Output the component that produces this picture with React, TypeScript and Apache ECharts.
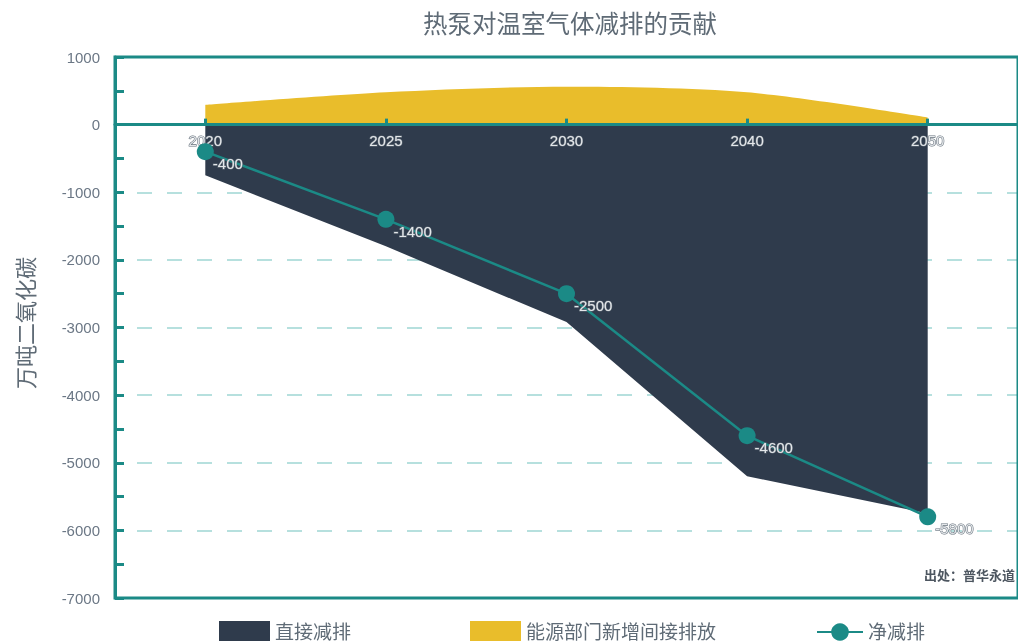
import React, { useEffect, useRef } from "react";
import * as echarts from "echarts";

const years = ["2020", "2025", "2030", "2040", "2050"];
const directReduction = [-750, -1800, -2920, -5200, -5750];
const indirectEmission = [290, 478, 560, 478, 105];
const netReduction = [-400, -1400, -2500, -4600, -5800];

const seriesNames = ["直接减排", "能源部门新增间接排放", "净减排"];
const titleText = "热泵对温室气体减排的贡献";
const yAxisTitle = "万吨二氧化碳";
const sourceText = "出处：普华永道";

const TEAL = "#1b8a86";
const DARK = "#2f3b4c";
const YELLOW = "#e9bd2b";
const GRAY = "#5f6b76";
const FONT = '"Liberation Sans", "Noto Sans CJK SC", sans-serif';

const Y_MIN = -7000;
const Y_MAX = 1000;
const GRID_TOP = 57;
const GRID_BOTTOM = 43;
const CHART_H = 641;

export default function App() {
  const ref = useRef<HTMLDivElement>(null);
  useEffect(() => {
    if (!ref.current) return;
    const chart = echarts.init(ref.current, null, { renderer: "svg" });
    const gridH = CHART_H - GRID_TOP - GRID_BOTTOM;
    const zeroOffset = -(gridH * (0 - Y_MIN)) / (Y_MAX - Y_MIN);
    const legendBase = {
      top: 616,
      itemWidth: 51,
      itemHeight: 22,
      itemGap: 10,
      textStyle: { fontSize: 19, color: GRAY, fontFamily: FONT, lineHeight: 22 },
    };
    const haloLabel = {
      fontSize: 15,
      color: "#e4e7ea",
      textBorderColor: "#65707b",
      textBorderWidth: 1.1,
    };
    chart.setOption({
      animation: false,
      textStyle: { fontFamily: FONT },
      grid: {
        left: 115,
        top: GRID_TOP,
        width: 909,
        bottom: GRID_BOTTOM,
        show: true,
        borderColor: TEAL,
        borderWidth: 3,
        backgroundColor: "transparent",
        z: 1,
      },
      legend: [
        { ...legendBase, left: 214, icon: "rect", data: [seriesNames[0]] },
        { ...legendBase, left: 465, icon: "rect", data: [seriesNames[1]] },
        { ...legendBase, left: 811, itemWidth: 46, data: [seriesNames[2]] },
      ],
      graphic: [
        {
          type: "text",
          x: 570,
          y: 24,
          style: {
            text: titleText,
            fill: GRAY,
            fontSize: 24.5,
            fontFamily: FONT,
            textAlign: "center",
            textVerticalAlign: "middle",
          },
        },
        {
          type: "text",
          x: 26,
          y: 323,
          rotation: Math.PI / 2,
          style: {
            text: yAxisTitle,
            fill: GRAY,
            fontSize: 22,
            fontFamily: FONT,
            textAlign: "center",
            textVerticalAlign: "middle",
          },
        },
        {
          type: "text",
          x: 1015,
          y: 575,
          style: {
            text: sourceText,
            fill: "#4d5660",
            fontSize: 13,
            fontWeight: "bold",
            fontFamily: FONT,
            textAlign: "right",
            textVerticalAlign: "middle",
          },
        },
      ],
      xAxis: {
        type: "category",
        data: years,
        boundaryGap: true,
        position: "bottom",
        offset: zeroOffset,
        z: 5,
        axisLine: { show: true, onZero: false, lineStyle: { color: TEAL, width: 3 } },
        axisTick: {
          show: true,
          alignWithLabel: true,
          inside: true,
          length: 6,
          lineStyle: { color: TEAL, width: 3 },
        },
        axisLabel: { ...haloLabel, margin: 8 },
        splitLine: { show: false },
      },
      yAxis: {
        type: "value",
        min: Y_MIN,
        max: Y_MAX,
        interval: 1000,
        z: 0,
        axisLine: { show: true, lineStyle: { color: TEAL, width: 3 } },
        axisTick: { show: true, inside: true, length: 9, lineStyle: { color: TEAL, width: 3 } },
        minorTick: { show: true, splitNumber: 2, length: 9, lineStyle: { color: TEAL, width: 3 } },
        axisLabel: {
          fontSize: 15,
          color: "#6b7785",
          margin: 15,
          formatter: (v: number) => String(v),
        },
        splitLine: {
          show: true,
          lineStyle: { color: "#9fd6d3", width: 1.5, type: [15, 15], dashOffset: 8 },
        },
      },
      series: [
        {
          name: seriesNames[0],
          type: "line",
          data: directReduction,
          smooth: false,
          symbol: "none",
          lineStyle: { width: 0, color: DARK },
          itemStyle: { color: DARK },
          areaStyle: { color: DARK, opacity: 1 },
          z: 2,
        },
        {
          name: seriesNames[1],
          type: "line",
          data: indirectEmission,
          smooth: 0.3,
          symbol: "none",
          lineStyle: { width: 0, color: YELLOW },
          itemStyle: { color: YELLOW },
          areaStyle: { color: YELLOW, opacity: 1 },
          z: 2,
        },
        {
          name: seriesNames[2],
          type: "line",
          data: netReduction,
          symbol: "circle",
          symbolSize: 17,
          lineStyle: { width: 2.5, color: TEAL },
          itemStyle: { color: TEAL },
          z: 6,
          label: {
            show: true,
            position: "right",
            distance: -1,
            offset: [0, 12],
            ...haloLabel,
          },
        },
      ],
    });
    return () => chart.dispose();
  }, []);
  return (
    <div
      ref={ref}
      style={{ position: "fixed", left: 0, top: 0, width: 1018, height: 641 }}
    />
  );
}
